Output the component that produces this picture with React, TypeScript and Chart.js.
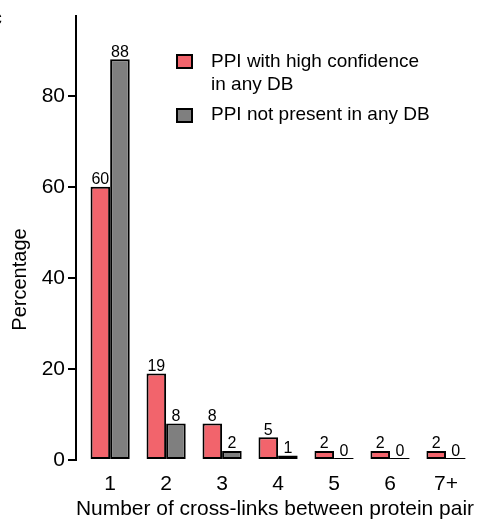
import React, { useEffect, useRef } from "react";
import { Chart, registerables } from "chart.js";

Chart.register(...registerables);

const categories = ["1", "2", "3", "4", "5", "6", "7+"];
const highConfidence = [60, 19, 8, 5, 2, 2, 2];
const notPresent = [88, 8, 2, 1, 0, 0, 0];
const seriesNames = ["PPI with high confidence in any DB", "PPI not present in any DB"];
const legendLines = [["PPI with high confidence", "in any DB"], ["PPI not present in any DB"]];
const yTicks = [0, 20, 40, 60, 80];
const seriesColors = ["#F2646C", "#7F7F7F"];
const xTitle = "Number of cross-links between protein pair";
const yTitle = "Percentage";
const panelLetter = "c";

const FONT = "'Liberation Sans', Arial, Helvetica, sans-serif";

const barLabelsPlugin = {
  id: "barLabels",
  afterDatasetsDraw(chart: any) {
    const ctx = chart.ctx;
    ctx.save();
    ctx.font = `16px ${FONT}`;
    ctx.fillStyle = "#000";
    ctx.textAlign = "center";
    ctx.textBaseline = "alphabetic";
    chart.data.datasets.forEach((ds: any, di: number) => {
      const meta = chart.getDatasetMeta(di);
      meta.data.forEach((bar: any, i: number) => {
        const p = bar.getProps(["x", "y", "base"], true);
        const top = Math.min(p.y, p.base);
        ctx.fillText(String(ds.data[i].y), p.x, top - 2.5);
      });
    });
    ctx.restore();
  },
};

const extrasPlugin = {
  id: "extras",
  afterDraw(chart: any) {
    const ctx = chart.ctx;
    ctx.save();
    // legend
    const boxes = [
      { boxY: 54, lineYs: [61.5, 85] },
      { boxY: 108, lineYs: [114.5] },
    ];
    boxes.forEach((b, i) => {
      ctx.fillStyle = chart.data.datasets[i].backgroundColor;
      ctx.fillRect(177, b.boxY + 1, 15, 13);
      ctx.strokeStyle = "#000";
      ctx.lineWidth = 2;
      ctx.strokeRect(177, b.boxY + 1, 15, 13);
      ctx.fillStyle = "#000";
      ctx.font = `19px ${FONT}`;
      ctx.textAlign = "left";
      ctx.textBaseline = "middle";
      legendLines[i].forEach((t, li) => ctx.fillText(t, 211, b.lineYs[li]));
    });
    // y title
    ctx.save();
    ctx.translate(20.5, 279.5);
    ctx.rotate(-Math.PI / 2);
    ctx.font = `20px ${FONT}`;
    ctx.textAlign = "center";
    ctx.textBaseline = "middle";
    ctx.fillStyle = "#000";
    ctx.fillText(yTitle, 0, 0);
    ctx.restore();
    // panel letter (mostly cropped at the left edge)
    ctx.font = `bold 22px ${FONT}`;
    ctx.textAlign = "right";
    ctx.textBaseline = "alphabetic";
    ctx.fillStyle = "#000";
    ctx.fillText(panelLetter, 2, 25);
    ctx.restore();
  },
};

export default function App() {
  const ref = useRef<HTMLCanvasElement | null>(null);
  useEffect(() => {
    if (!ref.current) return;
    Chart.defaults.font.family = FONT;
    Chart.defaults.color = "#000";
    const chart = new Chart(ref.current, {
      type: "bar",
      data: {
        datasets: [
          {
            label: seriesNames[0],
            data: highConfidence.map((v, i) => ({ x: i + 1, y: v })),
            backgroundColor: seriesColors[0],
            borderColor: "#000",
            borderWidth: 2,
            borderSkipped: false,
            minBarLength: 2,
          },
          {
            label: seriesNames[1],
            data: notPresent.map((v, i) => ({ x: i + 1, y: v })),
            backgroundColor: seriesColors[1],
            borderColor: "#000",
            borderWidth: 2,
            borderSkipped: false,
            minBarLength: 2,
          },
        ],
      } as any,
      options: {
        responsive: false,
        animation: false,
        devicePixelRatio: 1,
        layout: { padding: { top: 14, right: 8, left: 0, bottom: 0 } },
        datasets: { bar: { categoryPercentage: 0.7, barPercentage: 1 } },
        plugins: { legend: { display: false }, tooltip: { enabled: false } },
        scales: {
          x: {
            type: "linear",
            offset: false,
            min: 0.39,
            max: 7.5,
            grid: { display: false, drawTicks: false, offset: false },
            border: { display: false },
            afterBuildTicks: (s: any) => {
              s.ticks = categories.map((_, i) => ({ value: i + 1 }));
            },
            afterFit: (s: any) => {
              s.height = 60;
            },
            ticks: {
              font: { size: 21 },
              color: "#000",
              padding: 12,
              maxRotation: 0,
              autoSkip: false,
              callback: (v: any) => categories[Math.round(v) - 1] ?? "",
            },
            title: {
              display: true,
              text: xTitle,
              color: "#000",
              font: { size: 21, lineHeight: 1 },
              padding: { top: 0, bottom: 0 },
            },
          },
          y: {
            min: 0,
            max: 97.6,
            afterBuildTicks: (s: any) => {
              s.ticks = yTicks.map((v) => ({ value: v }));
            },
            afterFit: (s: any) => {
              s.width = 76;
            },
            grid: {
              display: true,
              drawOnChartArea: false,
              drawTicks: true,
              tickLength: 8,
              color: "#000",
              lineWidth: 2,
            },
            border: { display: true, color: "#000", width: 2 },
            ticks: { font: { size: 21 }, color: "#000", padding: 3 },
          },
        },
      } as any,
      plugins: [barLabelsPlugin, extrasPlugin],
    });
    return () => chart.destroy();
  }, []);
  return (
    <div style={{ position: "absolute", left: 0, top: 0, width: 482, height: 520 }}>
      <canvas ref={ref} width={482} height={520} style={{ display: "block", width: 482, height: 520 }} />
    </div>
  );
}
